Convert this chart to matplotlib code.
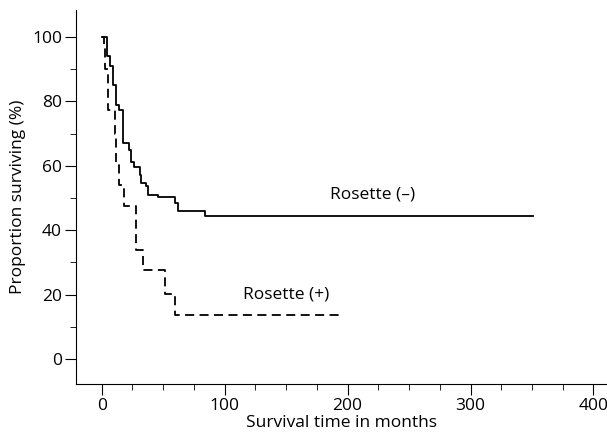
import matplotlib
matplotlib.use("Agg")
import matplotlib.pyplot as plt
from matplotlib.ticker import MultipleLocator

neg_t = [0, 4, 7, 9, 12, 14, 17, 22, 24, 26, 31, 32, 36, 38, 46, 60, 62, 84, 351]
neg_s = [100, 94, 91, 85, 79, 77.4, 67, 65, 61.3, 59.6, 57.2, 54.6, 53.6, 51, 50.3, 48.4, 46.1, 44.5, 44.5]
pos_t = [0, 1.5, 3, 5, 11, 12, 14, 18, 28, 34, 51.5, 59.4, 193]
pos_s = [100, 97, 90, 77.4, 70, 60.3, 54.1, 47.6, 33.9, 27.5, 20.2, 13.7, 13.7]

plt.rcParams['font.family'] = ['Open Sans', 'DejaVu Sans']
fig = plt.figure(figsize=(6.07, 4.36), dpi=100)
ax = fig.add_axes([0.125, 0.119, 0.875, 0.858])
ax.step(neg_t, neg_s, where='post', color='black', lw=1.3)
ax.step(pos_t, pos_s, where='post', color='black', lw=1.3, linestyle=(0, (5, 3)))
ax.text(220, 48.5, 'Rosette (–)', fontsize=12.5, ha='center', va='bottom')
ax.text(150, 17.4, 'Rosette (+)', fontsize=12.5, ha='center', va='bottom')
ax.set_xlim(-21, 411)
ax.set_ylim(-7.8, 108.4)
ax.xaxis.set_major_locator(MultipleLocator(100))
ax.xaxis.set_minor_locator(MultipleLocator(25))
ax.yaxis.set_major_locator(MultipleLocator(20))
ax.yaxis.set_minor_locator(MultipleLocator(10))
for s in ['top', 'right']:
    ax.spines[s].set_visible(False)
ax.tick_params(which='major', length=8, labelsize=12.5, pad=2)
ax.tick_params(which='minor', length=4)
ax.set_xlabel('Survival time in months', fontsize=12.5, labelpad=1)
ax.set_ylabel('Proportion surviving (%)', fontsize=12.5)
fig.savefig('out.png', dpi=100)
